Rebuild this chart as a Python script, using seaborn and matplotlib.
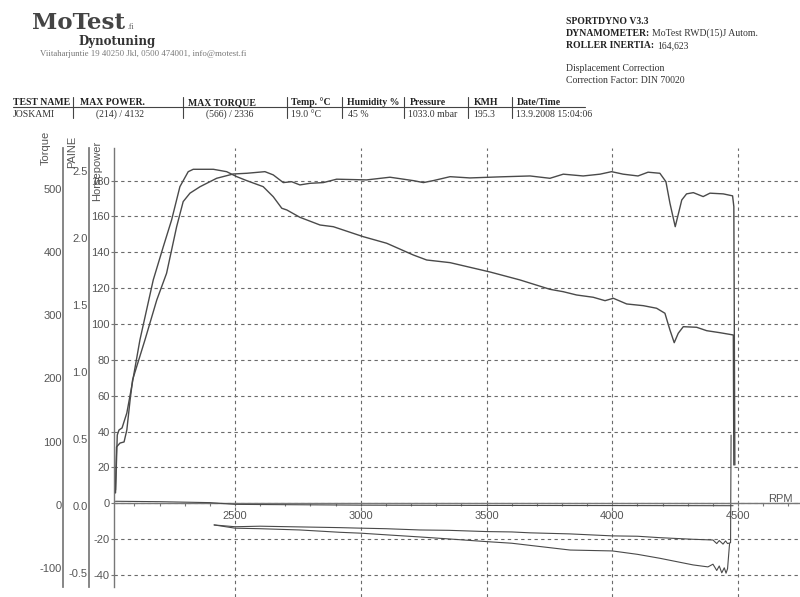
import matplotlib
matplotlib.use("Agg")
import matplotlib.pyplot as plt
from matplotlib.lines import Line2D
from matplotlib.ticker import MultipleLocator
import pandas as pd
import seaborn as sns

W, H = 800, 597

# Power (hp)
power_rpm = [2025, 2029, 2043, 2059, 2070, 2083, 2093, 2142, 2189, 2228, 2268, 2294,
             2321, 2361, 2427, 2493, 2547, 2619, 2652, 2692, 2725, 2758, 2798, 2851,
             2904, 3023, 3116, 3209, 3249, 3288, 3355, 3434, 3553, 3673, 3752, 3805,
             3884, 3951, 3997, 4043, 4102, 4142, 4189, 4213, 4229, 4250, 4276, 4295,
             4322, 4361, 4388, 4441, 4478, 4483, 4487]
power_hp = [7.4, 31.4, 33.6, 34.2, 40.9, 57.6, 68.9, 91.1, 113.4, 128.3, 154.3, 168.3,
            173.0, 176.6, 181.3, 183.7, 184.1, 185.0, 183.2, 178.9, 179.4, 177.6, 178.5, 178.9,
            180.8, 180.4, 181.9, 180.0, 178.9, 180.0, 182.2, 181.5, 182.1, 182.6, 181.3, 183.6,
            182.6, 183.6, 185.0, 183.6, 182.6, 184.7, 184.1, 179.4, 167.4, 154.3, 169.2, 172.6,
            173.3, 171.1, 173.0, 172.6, 171.5, 165.5, 21.4]

# Torque (Nm)
torque_rpm = [2025, 2029, 2032, 2039, 2051, 2070, 2089, 2122, 2175, 2215, 2248, 2281,
              2314, 2334, 2414, 2467, 2507, 2547, 2612, 2652, 2686, 2706, 2758, 2838,
              2891, 3010, 3103, 3209, 3262, 3355, 3514, 3633, 3752, 3805, 3858, 3924,
              3971, 4004, 4057, 4123, 4176, 4209, 4229, 4246, 4262, 4282, 4335, 4375,
              4428, 4481, 4483]
torque_nm = [18.7, 70.9, 110.5, 118.4, 121.6, 145.3, 186.5, 260.9, 355.9, 408.6, 450.9, 503.6,
             527.3, 531.1, 531.1, 527.3, 519.4, 513.1, 503.6, 487.7, 469.4, 466.7, 455.1, 442.9,
             440.2, 424.4, 414.0, 395.4, 387.5, 383.3, 368.5, 355.9, 341.1, 337.3, 332.1, 328.5,
             323.1, 326.9, 317.9, 315.2, 311.1, 303.2, 276.7, 256.6, 271.5, 281.9, 281.0, 275.6,
             272.4, 268.8, 63.0]

# Loss curves (hp, negative)
loss_a_rpm = [2417, 2500, 2600, 2758, 2917, 3001, 3100, 3235, 3350, 3500, 3600, 3673,
              3832, 4000, 4100, 4189, 4321, 4400, 4415, 4425, 4440, 4450, 4458, 4470, 4472]
loss_a_hp = [-12.1, -13.1, -12.8, -13.2, -13.6, -13.9, -14.2, -14.9, -15.1, -15.8, -16.0, -16.5,
             -17.1, -18.2, -18.4, -19.2, -20.1, -20.5, -22.5, -20.8, -22.8, -21.0, -22.5, -22.0, 38.0]
loss_b_rpm = [2417, 2500, 2600, 2758, 2917, 3001, 3100, 3235, 3350, 3500, 3600, 3673,
              3832, 4000, 4100, 4189, 4321, 4380, 4400, 4415, 4425, 4435, 4445, 4452, 4458, 4466]
loss_b_hp = [-12.1, -13.9, -14.2, -14.9, -16.2, -16.7, -17.6, -18.8, -19.9, -21.4, -22.3, -23.5,
             -26.1, -26.6, -28.5, -30.7, -34.4, -35.5, -34.0, -37.5, -35.0, -38.8, -36.0, -39.0,
             -36.5, -22.5]

# Pressure trace close to zero (bar)
paine_rpm = [2025, 2200, 2400, 2500, 3000, 3500, 4000, 4480]
paine_bar = [0.035, 0.032, 0.025, 0.012, 0.006, 0.004, 0.003, 0.002]

rpm_ticks = [2500, 3000, 3500, 4000, 4500]
hp_ticks = [-40, -20, 0, 20, 40, 60, 80, 100, 120, 140, 160, 180]
torque_ticks = [-100, 0, 100, 200, 300, 400, 500]
paine_ticks = [-0.5, 0.0, 0.5, 1.0, 1.5, 2.0, 2.5]

table_headers = ["TEST NAME", "MAX POWER.", "MAX TORQUE", "Temp. \u00b0C", "Humidity %",
                 "Pressure", "KMH", "Date/Time"]
table_values = ["JOSKAMI", "(214) / 4132", "(566) / 2336", "19.0 \u00b0C", "45 %",
                "1033.0 mbar", "195.3", "13.9.2008 15:04:06"]


def fx(x):
    return x / W


def fy(y):
    return 1 - y / H


sns.set_theme(style="white")
plt.rcParams["font.family"] = ["Liberation Sans", "DejaVu Sans"]
plt.rcParams["axes.unicode_minus"] = False

INK = "#555555"
GRID = "#6a6a6a"

fig = plt.figure(figsize=(8, 5.97), dpi=100)
ax = fig.add_axes([fx(114), 0, 1 - fx(114), fy(148)])

# horsepower axis
ax.set_xlim(2019, 4746)
ax.set_ylim(-52.3, 198.2)
for s in ["top", "right"]:
    ax.spines[s].set_visible(False)
ax.spines["left"].set_bounds(-46.7, 198.2)
ax.spines["bottom"].set_position(("data", 0))
for s in ["left", "bottom"]:
    ax.spines[s].set_color("#777777")
    ax.spines[s].set_linewidth(1.0)

ax.set_xticks(rpm_ticks)
ax.xaxis.set_minor_locator(MultipleLocator(100))
ax.tick_params(axis="x", which="both", direction="out", length=2.5, width=0.8,
               color="#777777", labelsize=8, labelcolor=INK, pad=3, bottom=True)
ax.set_yticks(hp_ticks)
ax.tick_params(axis="y", direction="out", length=2.5, width=0.8, color="#777777",
               labelsize=8, labelcolor=INK, pad=0.5, left=True)
ax.grid(True, color=GRID, linestyle=(0, (3, 3)), linewidth=0.8)

# torque axis
ax_t = ax.twinx()
ax_t.set_ylim(-146.0, 564.8)
for s in ["top", "right", "bottom"]:
    ax_t.spines[s].set_visible(False)
ax_t.spines["left"].set_visible(True)
ax_t.spines["left"].set_position(("axes", (63.3 - 114) / 686))
ax_t.spines["left"].set_bounds(-130.1, 564.8)
ax_t.spines["left"].set_color("#777777")
ax_t.yaxis.set_ticks_position("left")
ax_t.set_yticks(torque_ticks)
ax_t.tick_params(axis="y", length=0, labelsize=8, labelcolor=INK, pad=1.2)

# pressure axis
ax_p = ax.twinx()
ax_p.set_ylim(-0.679, 2.670)
for s in ["top", "right", "bottom"]:
    ax_p.spines[s].set_visible(False)
ax_p.spines["left"].set_visible(True)
ax_p.spines["left"].set_position(("axes", (89.3 - 114) / 686))
ax_p.spines["left"].set_bounds(-0.604, 2.670)
ax_p.spines["left"].set_color("#777777")
ax_p.yaxis.set_ticks_position("left")
ax_p.set_yticks(paine_ticks)
ax_p.set_yticklabels([f"{v:.1f}" for v in paine_ticks])
ax_p.tick_params(axis="y", length=0, labelsize=8, labelcolor=INK, pad=1.2)

power = pd.DataFrame({"rpm": power_rpm, "value": power_hp})
torque = pd.DataFrame({"rpm": torque_rpm, "value": torque_nm})
loss_a = pd.DataFrame({"rpm": loss_a_rpm, "value": loss_a_hp})
loss_b = pd.DataFrame({"rpm": loss_b_rpm, "value": loss_b_hp})
paine = pd.DataFrame({"rpm": paine_rpm, "value": paine_bar})

kw = dict(x="rpm", y="value", sort=False, estimator=None, color="#4a4a4a", legend=False)
sns.lineplot(data=power, ax=ax, linewidth=1.0, **kw)
sns.lineplot(data=loss_a, ax=ax, linewidth=0.8, **kw)
sns.lineplot(data=loss_b, ax=ax, linewidth=0.8, **kw)
sns.lineplot(data=torque, ax=ax_t, linewidth=1.0, **kw)
sns.lineplot(data=paine, ax=ax_p, linewidth=0.8, **kw)
for a in (ax, ax_t, ax_p):
    a.set_xlabel("")
    a.set_ylabel("")
ax.set_xlim(2019, 4746)

# axis titles
fig.text(fx(46), fy(148), "Torque", rotation=90, ha="center", va="center",
         fontsize=8, color=INK)
fig.text(fx(72), fy(152), "PAINE", rotation=90, ha="center", va="center",
         fontsize=8, color=INK)
fig.text(fx(97), fy(171), "Horsepower", rotation=90, ha="center", va="center",
         fontsize=8, color=INK)
fig.text(fx(768), fy(504), "RPM", ha="left", va="bottom", fontsize=8, color=INK)

# header
serif = "Liberation Serif"
fig.text(fx(32), fy(29), "MoTest", family="DejaVu Serif", weight="bold",
         fontsize=16.5, color="#444444", va="baseline")
fig.text(fx(127), fy(29), ".fi", family=serif, fontsize=5.5, color="#555555", va="baseline")
fig.text(fx(78), fy(45), "Dynotuning", family="DejaVu Serif", weight="bold",
         fontsize=8.5, color="#333333", va="baseline")
fig.text(fx(40), fy(56), "Viitaharjuntie 19 40250 Jkl, 0500 474001, info@motest.fi",
         family=serif, fontsize=6.3, color="#777777", va="baseline")

fig.text(fx(566), fy(24), "SPORTDYNO V3.3", family=serif, weight="bold", fontsize=7,
         color="#222222", va="baseline")
fig.text(fx(566), fy(36), "DYNAMOMETER:", family=serif, weight="bold", fontsize=7,
         color="#222222", va="baseline")
fig.text(fx(652), fy(36), "MoTest RWD(15)J Autom.", family=serif, fontsize=7,
         color="#333333", va="baseline")
fig.text(fx(566), fy(48), "ROLLER INERTIA:", family=serif, weight="bold", fontsize=7,
         color="#222222", va="baseline")
fig.text(fx(657), fy(48), "164,623", family=serif, fontsize=7, color="#333333", va="baseline")
fig.text(fx(566), fy(71), "Displacement Correction", family=serif, fontsize=7,
         color="#333333", va="baseline")
fig.text(fx(566), fy(83), "Correction Factor: DIN 70020", family=serif, fontsize=7,
         color="#333333", va="baseline")

# results table
head_x = [13, 80, 188, 291, 347, 410, 474, 517]
val_x = [13, 96, 206, 291, 348, 408, 473, 516]
sep_x = [73, 183, 287, 342, 404, 468, 512]
for x, t in zip(head_x, table_headers):
    fig.text(fx(x), fy(105), t, family=serif, weight="bold", fontsize=7,
             color="#222222", va="baseline")
for x, t in zip(val_x, table_values):
    fig.text(fx(x), fy(117), t, family=serif, fontsize=7, color="#333333", va="baseline")
fig.add_artist(Line2D([fx(13), fx(585)], [fy(107), fy(107)], color="#444444", lw=0.8))
for x in sep_x:
    fig.add_artist(Line2D([fx(x), fx(x)], [fy(97), fy(118)], color="#444444", lw=0.8))

fig.savefig("out.png", dpi=100)
